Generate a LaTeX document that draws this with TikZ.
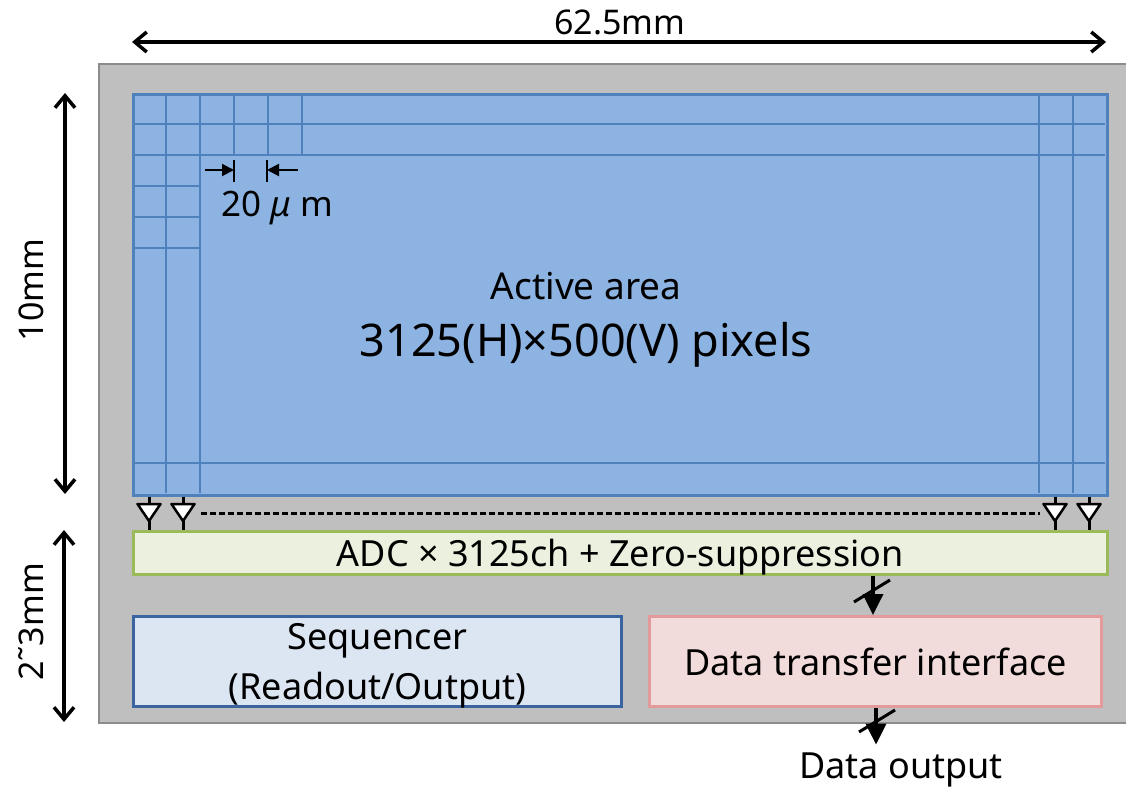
\documentclass[tikz,border=0pt]{standalone}
\usepackage{fontspec}
\setmainfont{Noto Sans}
\usetikzlibrary{arrows.meta, positioning, calc}
\definecolor{chipgray}{HTML}{BFBFBF}
\definecolor{chipedge}{HTML}{8C8C8C}
\definecolor{pixblue}{HTML}{8DB3E2}
\definecolor{pixline}{HTML}{4F81BD}
\definecolor{adcfill}{HTML}{EBF1DE}
\definecolor{adcedge}{HTML}{9BBB59}
\definecolor{seqfill}{HTML}{DCE6F2}
\definecolor{seqedge}{HTML}{3A64A0}
\definecolor{dtfill}{HTML}{F2DCDB}
\definecolor{dtedge}{HTML}{E39A9A}

\begin{document}
\begin{tikzpicture}[
    x=1pt, y=-1pt,
    every node/.style={inner sep=0pt, font=\fontsize{36}{50}\selectfont},
    blk/.style={draw, line width=2.5pt, anchor=north west, align=center, text depth=0pt},
    gridln/.style={pixline, line width=2.5pt},
    dim/.style={{Straight Barb[length=12pt,width=20pt]}-{Straight Barb[length=12pt,width=20pt]}, line width=3.5pt},
    pitcharr/.style={-{Triangle[length=12pt,width=12pt]}, line width=2pt},
    wire/.style={line width=3pt},
    bufsym/.style={draw, fill=white, line width=2.5pt, line join=round},
    arr/.style={-{Triangle[length=21pt,width=20pt]}, line width=3.5pt},
    slash/.style={line width=3pt}
]
\useasboundingbox (0,0) rectangle (1126,787);

% chip and blocks
\node (chip) [blk, line width=2pt, draw=chipedge, fill=chipgray, minimum width=1030pt, minimum height=659pt] at (98,63) {};
\node (active) [blk, draw=pixline, fill=pixblue, minimum width=974pt, minimum height=401pt] at (132,93) {};
\node (adc) [blk, draw=adcedge, fill=adcfill, minimum width=974pt, minimum height=43pt] at (132,530) {ADC × 3125ch + Zero-suppression};
\node (seq) [blk, line width=3pt, draw=seqedge, fill=seqfill, minimum width=488pt, minimum height=90pt] at (132,615) {Sequencer\\(Readout/Output)};
\node (dtif) [blk, line width=3pt, draw=dtedge, fill=dtfill, minimum width=452pt, minimum height=90pt] at (648,615) {Data transfer interface};

% pixel grid
\foreach \x in {166,200,1039,1073}
    \draw[gridln] (\x,94) -- (\x,493);
\foreach \y in {124,155,463}
    \draw[gridln] (133,\y) -- (1105,\y);
\foreach \x in {234,268,302}
    \draw[gridln] (\x,94) -- (\x,155);
\foreach \y in {186,217,248}
    \draw[gridln] (133,\y) -- (200,\y);

\node (title) at (586,286) [font=\fontsize{37}{44}\selectfont] {Active area};
\node (npix) [below=22pt of title, font=\fontsize{45}{54}\selectfont] {3125(H)×500(V) pixels};

% pixel pitch
\coordinate (pl) at (234,170);
\coordinate (pr) at (267,170);
\draw[line width=2pt] (234,160) -- (234,182) (267,160) -- (267,182);
\draw[pitcharr] ($(pl)+(-29,0)$) -- (pl);
\draw[pitcharr] ($(pr)+(31,0)$) -- (pr);
\node (pitch) at (277,208) [font=\fontsize{35}{42}\selectfont] {20 {\itshape μ} m};

% column buffers
\foreach \bx in {149,183,1055,1089} {
    \coordinate (bt) at (\bx,0);
    \draw[wire] (active.south -| bt) -- (adc.north -| bt);
    \draw[bufsym] (\bx-11.5,504) -- (\bx+11.5,504) -- (\bx,521) -- cycle;
}
\draw[line width=3pt, dash pattern=on 6pt off 3pt] (201,513) -- (1040,513);

% data path
\coordinate (d1) at (873,0);
\coordinate (d2) at (876,0);
\node (dout) at (901,770) {Data output};
\draw[arr] (adc.south -| d1) -- (dtif.north -| d1);
\draw[slash] (854,602) -- (890,580);
\draw[arr] (dtif.south -| d2) -- ($(dout.north -| d2)+(0,-8)$);
\draw[slash] (859,732) -- (895,710);

% dimensions
\coordinate (wl) at (132,42);
\coordinate (wr) at (1106,42);
\draw[dim] (wl) -- (wr);
\node (wlab) at (620,22) [font=\fontsize{34}{40}\selectfont] {62.5mm};
\coordinate (ht) at (65,93);
\coordinate (hb) at (65,494);
\draw[dim] (ht) -- (hb);
\node (hlab) at (31,290) [rotate=90, font=\fontsize{34}{40}\selectfont] {10mm};
\coordinate (rt) at (64,530);
\coordinate (rb) at (64,722);
\draw[dim] (rt) -- (rb);
\node (rlab) at (31,622) [rotate=90, font=\fontsize{34}{40}\selectfont] {2˜3mm};
\end{tikzpicture}
\end{document}
